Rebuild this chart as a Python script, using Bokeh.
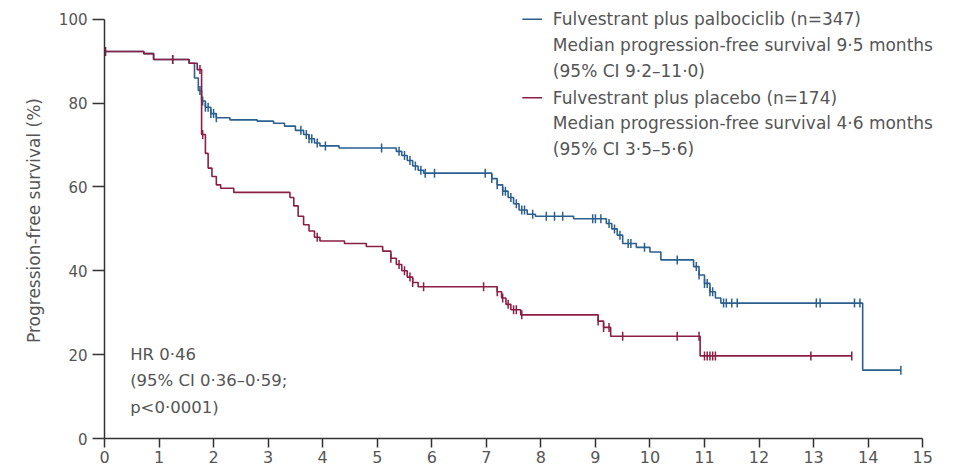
import numpy as np
from bokeh.plotting import figure
from bokeh.models import Range1d, Label, FixedTicker
from bokeh.embed import file_html
from bokeh.resources import INLINE

# Kaplan-Meier step data: time (months) of each step and survival (%) after it
palbo_time = [0.0, 0.72, 0.9, 1.55, 1.65, 1.72, 1.78, 1.85, 1.95, 2.05, 2.3, 2.8, 3.1, 3.3,
              3.5, 3.65, 3.75, 3.85, 3.95, 4.3, 5.35, 5.45, 5.55, 5.65, 5.75, 5.85,
              7.1, 7.2, 7.3, 7.4, 7.5, 7.6, 7.75, 7.9, 8.6, 9.2, 9.3, 9.4, 9.5, 9.75,
              10.0, 10.2, 10.8, 10.9, 11.0, 11.1, 11.2, 11.3, 13.9, 14.6]
palbo_surv = [92.3, 91.8, 90.4, 89.5, 86.0, 83.0, 80.5, 79.0, 77.5, 76.5, 76.0, 75.7, 75.2, 74.5,
              73.5, 72.5, 71.5, 70.5, 69.8, 69.3, 68.5, 67.5, 66.3, 65.0, 64.0, 63.3,
              62.0, 60.5, 59.0, 57.5, 56.0, 54.5, 53.5, 53.0, 52.4, 51.3, 50.0, 48.5, 46.5, 45.6,
              44.5, 42.6, 41.0, 39.0, 37.0, 35.0, 33.5, 32.3, 16.3, 16.3]
palbo_censor = [1.25, 1.75, 1.8, 1.85, 1.9, 1.95, 2.0, 2.05, 3.6, 3.7, 3.75, 3.8, 3.9, 4.05,
                5.08, 5.4, 5.5, 5.6, 5.7, 5.8, 5.88, 6.05, 6.98, 7.1, 7.2, 7.3, 7.35, 7.45,
                7.55, 7.65, 7.7, 7.85, 8.1, 8.25, 8.4, 8.95, 9.0, 9.1, 9.25, 9.35, 9.45,
                9.6, 9.65, 9.9, 10.5, 10.85, 10.9, 11.0, 11.05, 11.1, 11.15, 11.35, 11.4,
                11.5, 11.6, 13.05, 13.12, 13.75, 13.85, 14.6]

placebo_time = [0.0, 0.72, 0.9, 1.55, 1.7, 1.78, 1.85, 1.9, 1.97, 2.05, 2.13, 2.37, 3.4, 3.47,
                3.55, 3.65, 3.75, 3.85, 3.95, 4.4, 4.8, 5.1, 5.25, 5.35, 5.45, 5.55, 5.65,
                5.75, 7.2, 7.28, 7.36, 7.45, 7.63, 9.05, 9.15, 9.28, 10.92, 13.7]
placebo_surv = [92.3, 91.8, 90.4, 89.5, 88.0, 72.5, 68.0, 64.5, 62.5, 60.5, 59.7, 58.7, 57.5, 55.5,
                53.0, 51.0, 49.5, 48.0, 47.1, 46.5, 45.8, 44.7, 43.0, 41.5, 40.0, 38.5, 37.2,
                36.2, 35.0, 33.5, 32.0, 30.7, 29.5, 28.0, 26.5, 24.4, 19.7, 19.7]
placebo_censor = [0.02, 1.25, 1.75, 1.8, 3.9, 5.25, 5.4, 5.5, 5.6, 5.65, 5.85, 6.95, 7.2, 7.3,
                  7.4, 7.5, 7.55, 7.65, 9.05, 9.15, 9.25, 9.5, 10.5, 10.9, 11.0, 11.05, 11.1,
                  11.15, 11.2, 12.95, 13.7]

x_ticks = list(range(0, 16))
y_ticks = [0, 20, 40, 60, 80, 100]

legend_lines = [
    ["Fulvestrant plus palbociclib (n=347)",
     "Median progression-free survival 9·5 months",
     "(95% CI 9·2–11·0)"],
    ["Fulvestrant plus placebo (n=174)",
     "Median progression-free survival 4·6 months",
     "(95% CI 3·5–5·6)"],
]
hr_lines = ["HR 0·46", "(95% CI 0·36–0·59;", "p<0·0001)"]

BLUE = "#2a5f8f"
RED = "#8c1d45"
TEXT = "#555555"
FONT = "DejaVu Sans"


def surv_at(times, surv, t):
    idx = np.searchsorted(np.asarray(times), np.asarray(t), side="right") - 1
    return np.asarray(surv)[np.clip(idx, 0, len(surv) - 1)]


# the frame runs a little past 15 months so the legend text has room; the axis stops at 15
p = figure(width=956, height=468, output_backend="svg", toolbar_location=None,
           x_range=Range1d(0, 15.62), y_range=Range1d(0, 104),
           min_border_left=104, min_border_right=0, min_border_top=2, min_border_bottom=30)
p.outline_line_color = None
p.grid.visible = False
p.background_fill_color = "white"

for times, surv, cens, color in [(palbo_time, palbo_surv, palbo_censor, BLUE),
                                 (placebo_time, placebo_surv, placebo_censor, RED)]:
    p.step(times, surv, mode="after", line_color=color, line_width=1.6)
    p.scatter(cens, surv_at(times, surv, cens), marker="dash", angle=np.pi / 2,
              size=9, line_color=color, line_width=1.5)

# axes
for ax in (p.xaxis[0], p.yaxis[0]):
    ax.axis_line_color = "#333333"
    ax.axis_line_width = 1.5
    ax.major_tick_line_color = "#333333"
    ax.major_tick_line_width = 1.5
    ax.major_tick_in = 0
    ax.minor_tick_line_color = None
    ax.major_label_text_font = FONT
    ax.major_label_text_color = TEXT
p.xaxis.major_tick_out = 9
p.yaxis.major_tick_out = 12
p.xaxis.major_label_text_font_size = "16px"
p.yaxis.major_label_text_font_size = "15px"
p.xaxis.ticker = FixedTicker(ticks=x_ticks)
p.yaxis.ticker = FixedTicker(ticks=y_ticks)
p.xaxis.bounds = (0, 15)
p.yaxis.bounds = (0, 100)
p.xaxis.major_label_standoff = 3
p.yaxis.major_label_standoff = 5
p.yaxis.axis_label = "Progression-free survival (%)"
p.yaxis.axis_label_text_font = FONT
p.yaxis.axis_label_text_font_size = "17px"
p.yaxis.axis_label_text_font_style = "normal"
p.yaxis.axis_label_text_color = TEXT
p.yaxis.axis_label_standoff = 12

# legend block
leg_x0, leg_x1, leg_tx = 7.66, 8.02, 8.22
leg_rows = [100.0, 93.8, 87.6, 81.3, 75.2, 69.0]
for gi, (lines, color) in enumerate(zip(legend_lines, [BLUE, RED])):
    y0 = leg_rows[gi * 3]
    p.line([leg_x0, leg_x1], [y0, y0], line_color=color, line_width=1.5)
    for li, txt in enumerate(lines):
        p.add_layout(Label(x=leg_tx, y=leg_rows[gi * 3 + li], text=txt,
                           text_font=FONT, text_font_size="17px", text_color=TEXT,
                           text_baseline="middle", text_align="left"))

# hazard ratio note
for i, txt in enumerate(hr_lines):
    p.add_layout(Label(x=0.47, y=20.0 - i * 6.25, text=txt, text_font=FONT,
                       text_font_size="16.5px", text_color=TEXT,
                       text_baseline="middle", text_align="left"))

open("out.html", "w").write(file_html(p, INLINE))
